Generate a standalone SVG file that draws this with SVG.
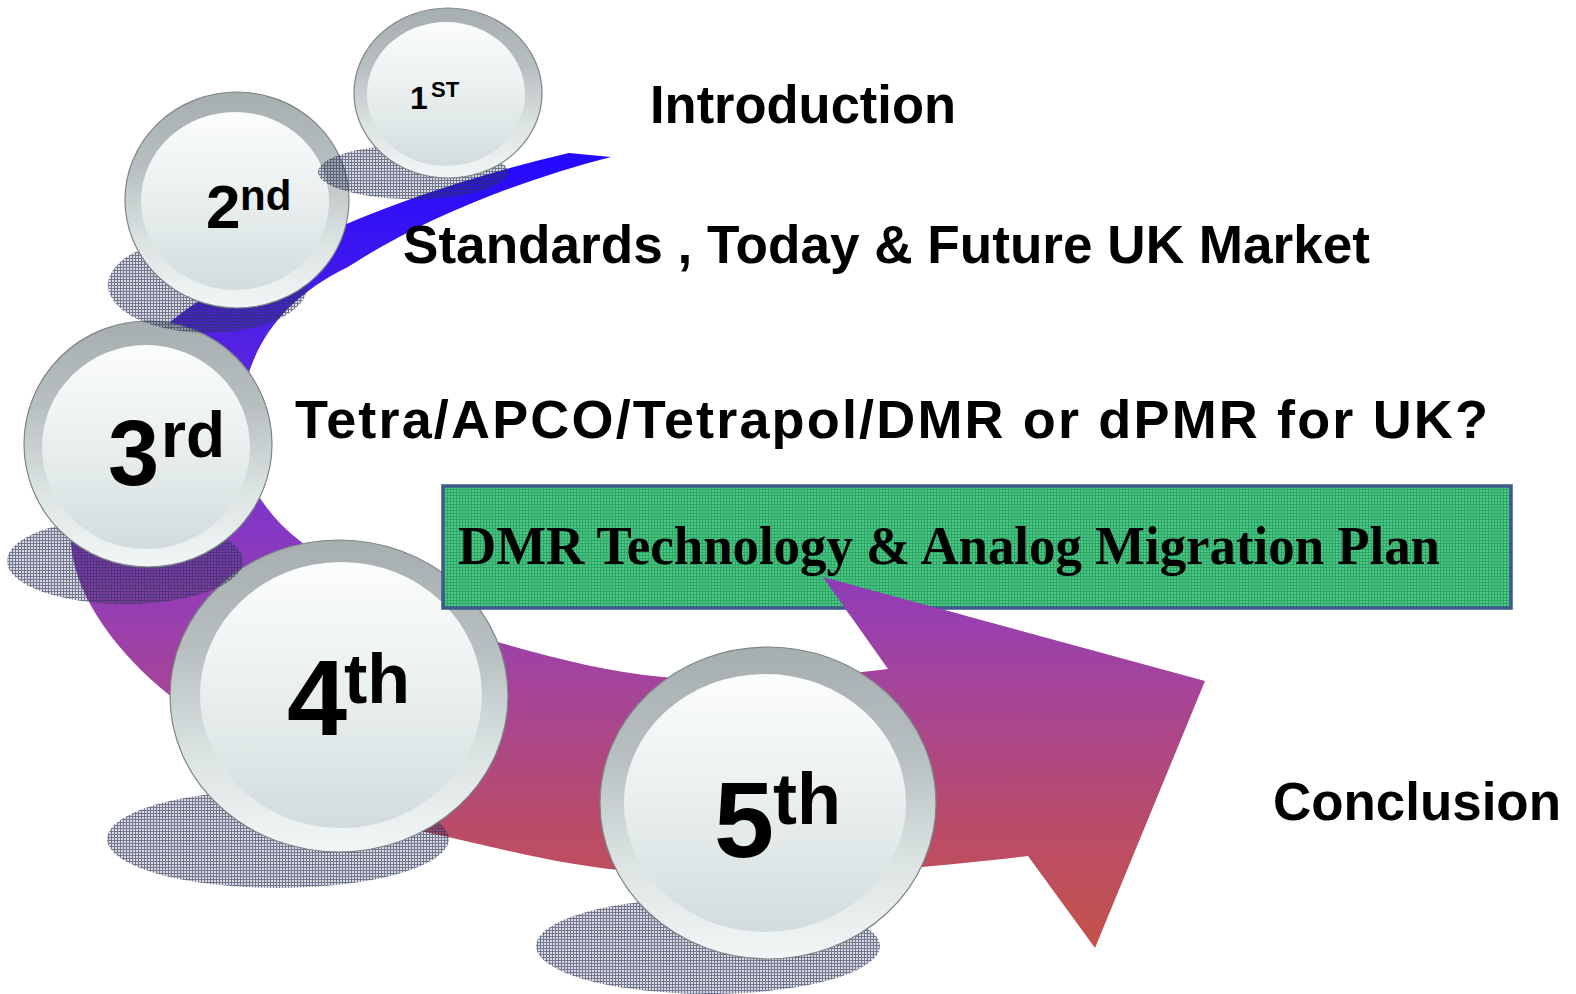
<svg xmlns="http://www.w3.org/2000/svg" width="1576" height="994" viewBox="0 0 1576 994">
<style>
.ring{fill:url(#ringG);stroke:#7d8586;stroke-width:1.2}
.face{fill:url(#faceG)}
.shadow{fill:url(#hatch)}
.lbl{font-family:"Liberation Sans",Arial,sans-serif;font-weight:bold;fill:#000}
.serif{font-family:"Liberation Serif","Times New Roman",serif;font-weight:bold;fill:#000}
</style>
<defs>
<linearGradient id="ribbonG" gradientUnits="userSpaceOnUse" x1="0" y1="150" x2="0" y2="948">
<stop offset="0" stop-color="#2208ff"/>
<stop offset="0.2" stop-color="#4a1ee8"/>
<stop offset="0.45" stop-color="#8036c8"/>
<stop offset="0.6" stop-color="#9b40ac"/>
<stop offset="0.7" stop-color="#a84592"/>
<stop offset="0.85" stop-color="#ba4c68"/>
<stop offset="1" stop-color="#c4524a"/>
</linearGradient>
<linearGradient id="ringG" x1="0" y1="0" x2="0" y2="1">
<stop offset="0" stop-color="#a6aeaf"/>
<stop offset="0.35" stop-color="#b7bfc0"/>
<stop offset="0.7" stop-color="#dde4e4"/>
<stop offset="1" stop-color="#f2f6f6"/>
</linearGradient>
<linearGradient id="faceG" x1="0" y1="0" x2="0" y2="1">
<stop offset="0" stop-color="#fcfdfd"/>
<stop offset="0.55" stop-color="#e7eded"/>
<stop offset="1" stop-color="#d2dcdd"/>
</linearGradient>
<pattern id="hatch" width="3" height="3" patternUnits="userSpaceOnUse">
<rect width="3" height="3" fill="#2c3358" fill-opacity="0.18"/>
<path d="M0 0H3V1H0Z M0 1H1V3H0Z" fill="#2c3358" fill-opacity="0.6"/>
</pattern>
<pattern id="greenTex" width="3" height="3" patternUnits="userSpaceOnUse">
<rect width="3" height="3" fill="#4cc887"/>
<path d="M0 0H3V1H0Z M0 1H1V3H0Z" fill="#2ea565"/>
</pattern>
<path id="ribbonPath" d="M569,153 C440,183 330,225 250,272 C170,310 100,375 80,450 C74,472 68,510 71,545 C76,600 120,655 168,694 C230,744 330,812 425,832 C500,848 560,866 640,872 C760,881 880,873 1028,856 L1095,948 L1205,681 L823,577 L888,669 C820,678 740,683 663,677 C610,672 560,660 501,643 C430,625 360,590 300,541 C260,510 238,470 240,420 C245,350 280,300 348,267 C420,220 520,180 611,157 Z"/>
<clipPath id="headClip"><rect x="700" y="470" width="620" height="145"/></clipPath>
</defs>
<rect width="1576" height="994" fill="#ffffff"/>

<g id="connectors">
<use href="#ribbonPath" fill="url(#ribbonG)"/>
</g>

<g id="node-5">
<ellipse class="shadow" cx="708" cy="946" rx="172" ry="48"/>
<ellipse class="ring" cx="768" cy="803" rx="168" ry="156"/>
<ellipse class="face" cx="765" cy="803" rx="141" ry="129"/>
<text class="lbl" x="714" y="857" font-size="108">5</text>
<text class="lbl" x="773" y="824" font-size="72">th</text>
</g>

<g id="node-4">
<ellipse class="shadow" cx="278" cy="839" rx="171" ry="49"/>
<ellipse class="ring" cx="339" cy="696" rx="169" ry="156"/>
<ellipse class="face" cx="341" cy="695" rx="141" ry="133"/>
<text class="lbl" x="287" y="735" font-size="108">4</text>
<text class="lbl" x="344" y="703" font-size="70">th</text>
</g>

<g id="node-3">
<ellipse class="shadow" cx="125" cy="561" rx="118" ry="43"/>
<ellipse class="ring" cx="148" cy="444" rx="124" ry="123"/>
<ellipse class="face" cx="146" cy="447" rx="104" ry="102"/>
<text class="lbl" x="108" y="485" font-size="92">3</text>
<text class="lbl" x="161" y="457" font-size="64">rd</text>
</g>

<g id="node-2">
<ellipse class="shadow" cx="208" cy="285" rx="100" ry="48"/>
<ellipse class="ring" cx="237" cy="200" rx="112" ry="108"/>
<ellipse class="face" cx="235" cy="201" rx="94" ry="89"/>
<text class="lbl" x="206" y="228" font-size="62">2</text>
<text class="lbl" x="240" y="210" font-size="42">nd</text>
</g>

<g id="node-1">
<ellipse class="shadow" cx="413" cy="172" rx="95" ry="27"/>
<ellipse class="ring" cx="448" cy="93" rx="94" ry="85"/>
<ellipse class="face" cx="446" cy="94" rx="79" ry="72"/>
<text class="lbl" x="410" y="109" font-size="32">1</text>
<text class="lbl" x="431" y="97" font-size="22">ST</text>
</g>

<g id="node-dmr">
<rect x="443" y="486" width="1068" height="122" fill="url(#greenTex)" stroke="#3d5a8c" stroke-width="3.5"/>
</g>

<g id="connectors-head">
<use href="#ribbonPath" fill="url(#ribbonG)" clip-path="url(#headClip)"/>
</g>

<g id="node-dmr-label">
<text class="serif" x="458" y="564" font-size="55" textLength="982" lengthAdjust="spacingAndGlyphs">DMR Technology &amp; Analog Migration Plan</text>
</g>

<g id="label-intro">
<text class="lbl" x="650" y="123" font-size="54" textLength="306" lengthAdjust="spacingAndGlyphs">Introduction</text>
</g>
<g id="label-standards">
<text class="lbl" x="403" y="263" font-size="53" textLength="967" lengthAdjust="spacingAndGlyphs">Standards , Today &amp; Future UK Market</text>
</g>
<g id="label-tetra">
<text class="lbl" x="295" y="438" font-size="54" textLength="1193">Tetra/APCO/Tetrapol/DMR or dPMR for UK?</text>
</g>
<g id="label-conclusion">
<text class="lbl" x="1273" y="820" font-size="54" textLength="288" lengthAdjust="spacingAndGlyphs">Conclusion</text>
</g>
</svg>
